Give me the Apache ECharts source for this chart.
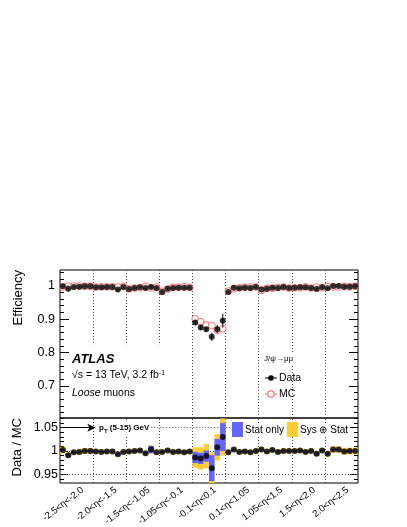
<!DOCTYPE html>
<html><head><meta charset="utf-8">
<script src="https://cdn.jsdelivr.net/npm/echarts@6/dist/echarts.min.js"></script>
<style>html,body{margin:0;padding:0;background:#fff}#c{width:407px;height:527px}</style>
</head><body><div id="c"></div>
<script>
// ---------------- data ----------------
const etaLabels = ['-2.5<η<-2.0','-2.0<η<-1.5','-1.5<η<-1.05','-1.05<η<-0.1','-0.1<η<0.1','0.1<η<1.05','1.05<η<1.5','1.5<η<2.0','2.0<η<2.5'];
const binsPerRegion = 6;

const effData = [
  0.998,0.991,0.996,0.997,0.998,0.998,
  0.995,0.995,0.996,0.996,0.989,0.996,
  0.990,0.993,0.995,0.993,0.996,0.993,
  0.981,0.991,0.993,0.994,0.994,0.994,
  0.890,0.875,0.870,0.847,0.870,0.895,
  0.981,0.994,0.992,0.994,0.993,0.996,
  0.989,0.991,0.994,0.993,0.996,0.993,
  0.994,0.995,0.995,0.993,0.990,0.995,
  0.992,0.999,0.999,0.997,0.997,0.998
];
const effDataErr = [
  0.002,0.002,0.002,0.002,0.002,0.002,
  0.002,0.002,0.002,0.002,0.002,0.002,
  0.002,0.002,0.002,0.002,0.005,0.002,
  0.002,0.002,0.002,0.002,0.002,0.002,
  0.006,0.007,0.007,0.012,0.012,0.021,
  0.002,0.002,0.002,0.002,0.002,0.002,
  0.002,0.002,0.002,0.002,0.002,0.002,
  0.002,0.002,0.002,0.002,0.002,0.002,
  0.002,0.002,0.002,0.002,0.002,0.002
];
const effMC = [
  0.996,0.999,0.999,0.999,0.998,0.998,
  0.996,0.997,0.997,0.997,0.996,0.998,
  0.991,0.993,0.994,0.998,0.993,0.996,
  0.983,0.990,0.995,0.995,0.997,0.995,
  0.901,0.892,0.882,0.881,0.866,0.871,
  0.984,0.991,0.994,0.995,0.996,0.996,
  0.986,0.992,0.992,0.995,0.996,0.993,
  0.994,0.994,0.997,0.993,0.996,0.994,
  0.998,0.996,0.996,0.998,0.997,0.998
];
const ratio = [
  1.002,0.991,0.997,0.998,1.000,1.000,
  0.999,0.998,0.999,0.999,0.993,0.998,
  0.999,1.000,1.001,0.995,1.003,0.997,
  0.998,1.001,0.998,0.999,0.997,0.999,
  0.986,0.984,0.989,0.963,1.008,1.030,
  0.997,1.003,0.998,0.999,0.997,1.000,
  1.003,0.999,1.002,0.998,1.000,1.000,
  1.000,1.001,0.998,1.000,0.994,1.001,
  0.994,1.003,1.003,0.999,1.000,1.000
];
const ratioStat = [
  0.003,0.003,0.002,0.002,0.002,0.002,
  0.002,0.002,0.002,0.002,0.003,0.002,
  0.002,0.002,0.002,0.003,0.008,0.002,
  0.002,0.002,0.002,0.002,0.002,0.002,
  0.012,0.012,0.012,0.028,0.018,0.030,
  0.002,0.002,0.002,0.002,0.002,0.002,
  0.002,0.002,0.002,0.002,0.002,0.002,
  0.002,0.002,0.002,0.002,0.003,0.002,
  0.003,0.002,0.002,0.002,0.002,0.002
];
const ratioSys = [
  0.007,0.005,0.005,0.006,0.006,0.006,
  0.005,0.005,0.005,0.005,0.005,0.005,
  0.005,0.005,0.005,0.005,0.009,0.005,
  0.005,0.005,0.005,0.005,0.005,0.005,
  0.022,0.024,0.026,0.034,0.028,0.040,
  0.005,0.005,0.005,0.005,0.005,0.005,
  0.005,0.005,0.005,0.005,0.005,0.005,
  0.005,0.005,0.005,0.005,0.005,0.005,
  0.006,0.007,0.007,0.007,0.007,0.007
];
const effTicksMajor = [0.7,0.8,0.9,1.0];
const effTicksMinor = [0.62,0.64,0.66,0.68,0.72,0.74,0.76,0.78,0.82,0.84,0.86,0.88,0.92,0.94,0.96,0.98,1.02,1.04];
const ratioTicksMajor = [0.95,1.0,1.05];
const ratioTicksMinor = [0.94,0.96,0.97,0.98,0.99,1.01,1.02,1.03,1.04,1.06,1.07];
const effRange = [0.604, 1.047];
const ratioRange = [0.931, 1.071];
const refLines = [0.95, 1.0];

// ---------------- chart ----------------
const FONT = '"Liberation Sans", Arial, sans-serif';
const nBins = etaLabels.length * binsPerRegion;
const labelShift = 1.1;
const labelPos = etaLabels.map((_, k) => k * binsPerRegion + binsPerRegion / 2 + labelShift);
const boundaries = [];
for (let k = 1; k < etaLabels.length; k++) boundaries.push(k * binsPerRegion);

const YELLOW = '#ffcc33', BLUE = '#6464ff', MCRED = '#ff6464';
const dotted = {type: [1, 2], color: '#444', width: 1};

function yAx(o) {
  return {
    type: 'value', gridIndex: o.grid, position: o.pos, min: o.range[0], max: o.range[1],
    axisLine: {show: false}, splitLine: {show: false},
    axisTick: {show: true, inside: true, length: o.len, customValues: o.ticks, lineStyle: {color: '#000', width: 1}},
    axisLabel: {show: !!o.labels, customValues: o.ticks, formatter: o.fmt, fontSize: o.fs || 12, color: '#000', margin: o.margin || 4, fontFamily: FONT}
  };
}
const fmtEff = v => String(+v.toFixed(1));
const fmtRat = v => String(+v.toFixed(2));

const chart = echarts.init(document.getElementById('c'), null, {renderer: 'canvas'});

const upperVLines = boundaries.map(b => b <= 18
  ? [{coord: [b, effRange[1]]}, {coord: [b, 0.822]}]
  : {xAxis: b});

const lowerLines = boundaries.map(b => ({xAxis: b}))
  .concat(refLines.map(v => ({yAxis: v})))
  .concat([[{coord: [16, 1.05]}, {coord: [31, 1.05]}]]);

const option = {
  animation: false,
  backgroundColor: '#fff',
  grid: [
    {left: 60, top: 270, width: 298, height: 148, show: true, borderColor: '#000', borderWidth: 1, backgroundColor: 'transparent', outerBoundsMode: 'none'},
    {left: 60, top: 418, width: 298, height: 65, show: true, borderColor: '#000', borderWidth: 1, backgroundColor: 'transparent', outerBoundsMode: 'none'}
  ],
  xAxis: [
    {type: 'value', gridIndex: 0, min: 0, max: nBins, axisLine: {show: false}, axisTick: {show: false}, axisLabel: {show: false}, splitLine: {show: false}},
    {type: 'value', gridIndex: 1, min: 0, max: nBins, axisLine: {show: false}, axisTick: {show: false}, splitLine: {show: false},
     axisLabel: {show: true, customValues: labelPos, rotate: 38, margin: 6, fontSize: 9.5, color: '#000', fontFamily: FONT,
       formatter: v => etaLabels[Math.round((v - labelShift - binsPerRegion / 2) / binsPerRegion)] || ''}}
  ],
  yAxis: [
    yAx({grid: 0, range: effRange, pos: 'left', ticks: effTicksMajor, len: 9, labels: true, fmt: fmtEff, fs: 12.5, margin: 5}),
    yAx({grid: 0, range: effRange, pos: 'left', ticks: effTicksMinor, len: 4}),
    yAx({grid: 0, range: effRange, pos: 'right', ticks: effTicksMajor, len: 9}),
    yAx({grid: 0, range: effRange, pos: 'right', ticks: effTicksMinor, len: 4}),
    yAx({grid: 1, range: ratioRange, pos: 'left', ticks: ratioTicksMajor, len: 8, labels: true, fmt: fmtRat, fs: 12.5, margin: 2}),
    yAx({grid: 1, range: ratioRange, pos: 'left', ticks: ratioTicksMinor, len: 4}),
    yAx({grid: 1, range: ratioRange, pos: 'right', ticks: ratioTicksMajor, len: 8}),
    yAx({grid: 1, range: ratioRange, pos: 'right', ticks: ratioTicksMinor, len: 4})
  ],
  series: [
    {type: 'scatter', xAxisIndex: 0, yAxisIndex: 0, silent: true, z: 3,
     data: effMC.map((v, i) => [i + 0.5, v]), symbol: 'circle', symbolSize: 6.5,
     itemStyle: {color: '#fff', borderColor: MCRED, borderWidth: 1.1},
     markLine: {silent: true, symbol: ['none', 'none'], label: {show: false}, lineStyle: dotted, z: 1, data: upperVLines}},
    {type: 'custom', xAxisIndex: 0, yAxisIndex: 0, silent: true, clip: true, z: 4,
     data: effData.map((v, i) => [i + 0.5, v, effDataErr[i]]),
     renderItem: (params, api) => {
       const x = api.value(0), y = api.value(1), e = api.value(2);
       const a = api.coord([x, y + e]), b = api.coord([x, y - e]);
       return {type: 'line', shape: {x1: a[0], y1: a[1], x2: b[0], y2: b[1]}, style: {stroke: '#000', lineWidth: 1}};
     }},
    {type: 'scatter', xAxisIndex: 0, yAxisIndex: 0, silent: true, z: 5,
     data: effData.map((v, i) => [i + 0.5, v]), symbol: 'circle', symbolSize: 6, itemStyle: {color: '#000'}},
    {type: 'custom', xAxisIndex: 1, yAxisIndex: 4, silent: true, clip: true, z: 2,
     data: ratio.map((v, i) => [i, v, ratioSys[i]]),
     renderItem: (params, api) => {
       const i = api.value(0), v = api.value(1), e = api.value(2);
       const a = api.coord([i, v + e]), b = api.coord([i + 1, v - e]);
       return {type: 'rect', shape: {x: a[0], y: a[1], width: b[0] - a[0], height: b[1] - a[1]}, style: {fill: YELLOW}};
     }},
    {type: 'custom', xAxisIndex: 1, yAxisIndex: 4, silent: true, clip: true, z: 3,
     data: ratio.map((v, i) => [i, v, ratioStat[i]]),
     renderItem: (params, api) => {
       const i = api.value(0), v = api.value(1), e = api.value(2);
       const a = api.coord([i, v + e]), b = api.coord([i + 1, v - e]);
       return {type: 'rect', shape: {x: a[0], y: a[1], width: b[0] - a[0], height: b[1] - a[1]}, style: {fill: BLUE}};
     }},
    {type: 'scatter', xAxisIndex: 1, yAxisIndex: 4, silent: true, z: 5,
     data: ratio.map((v, i) => [i + 0.5, v]), symbol: 'circle', symbolSize: 6, itemStyle: {color: '#000'},
     markLine: {silent: true, symbol: ['none', 'none'], label: {show: false}, lineStyle: dotted, z: 1,
       data: lowerLines.concat([[{coord: [0.3, 1.05], symbol: 'none', lineStyle: {type: 'solid', color: '#000', width: 1}},
                                 {coord: [6.4, 1.05], symbol: 'arrow', symbolSize: [6, 8], lineStyle: {type: 'solid', color: '#000', width: 1}}]])}}
  ],
  graphic: [
    {type: 'text', x: 18, y: 270, rotation: Math.PI / 2,
     style: {text: 'Efficiency', font: '13px ' + FONT, fill: '#000', align: 'right', verticalAlign: 'middle'}},
    {type: 'text', x: 17, y: 418, rotation: Math.PI / 2,
     style: {text: 'Data / MC', font: '13px ' + FONT, fill: '#000', align: 'right', verticalAlign: 'middle'}},
    {type: 'text', x: 72, y: 359, z: 10,
     style: {text: 'ATLAS', font: 'italic bold 13px ' + FONT, fill: '#000', verticalAlign: 'middle'}},
    {type: 'text', x: 72, y: 375, z: 10,
     style: {text: '√s = 13 TeV, 3.2 fb{sup|-1}', font: '10.5px ' + FONT, fill: '#000', verticalAlign: 'middle',
       rich: {sup: {fontSize: 7, fontFamily: FONT, verticalAlign: 'top', fill: '#000'}}}},
    {type: 'text', x: 72, y: 393, z: 10,
     style: {text: '{i|Loose} muons', font: '10.5px ' + FONT, fill: '#000', verticalAlign: 'middle',
       rich: {i: {fontStyle: 'italic', fontSize: 10.5, fontFamily: FONT, fill: '#000'}}}},
    {type: 'text', x: 263, y: 359, z: 10,
     style: {text: 'J/ψ→μμ', font: '8px ' + FONT, fill: '#000', verticalAlign: 'middle', backgroundColor: '#fff', padding: [1, 1]}},
    {type: 'line', z: 10, shape: {x1: 265, y1: 378, x2: 277, y2: 378}, style: {stroke: '#000', lineWidth: 1}},
    {type: 'circle', z: 11, shape: {cx: 271, cy: 378, r: 2.8}, style: {fill: '#000'}},
    {type: 'text', x: 279, y: 378, z: 10, style: {text: 'Data', font: '10.5px ' + FONT, fill: '#000', verticalAlign: 'middle'}},
    {type: 'line', z: 10, shape: {x1: 265, y1: 394, x2: 277, y2: 394}, style: {stroke: MCRED, lineWidth: 1}},
    {type: 'circle', z: 11, shape: {cx: 271, cy: 394, r: 3.2}, style: {fill: '#fff', stroke: MCRED, lineWidth: 1.1}},
    {type: 'text', x: 279, y: 394, z: 10, style: {text: 'MC', font: '10.5px ' + FONT, fill: '#000', verticalAlign: 'middle'}},
    {type: 'text', x: 98, y: 428, z: 10,
     style: {text: '{p|p}{t|T} (5-15) GeV', font: 'bold 8px ' + FONT, fill: '#000', verticalAlign: 'middle', backgroundColor: '#fff', padding: [1, 1],
       rich: {p: {fontSize: 8, fontWeight: 'bold', fontFamily: FONT, fill: '#000'}, t: {fontSize: 6, fontWeight: 'bold', fontFamily: FONT, fill: '#000', verticalAlign: 'bottom', padding: [6, 0, 0, 0]}}}},
    {type: 'rect', z: 10, shape: {x: 232, y: 422, width: 11, height: 15}, style: {fill: BLUE}},
    {type: 'text', x: 245, y: 430, z: 10, style: {text: 'Stat only', font: '10px ' + FONT, fill: '#000', verticalAlign: 'middle', backgroundColor: '#fff'}},
    {type: 'rect', z: 10, shape: {x: 287, y: 422, width: 11, height: 15}, style: {fill: YELLOW}},
    {type: 'text', x: 300, y: 430, z: 10, style: {text: 'Sys ⊕ Stat', font: '10px ' + FONT, fill: '#000', verticalAlign: 'middle', backgroundColor: '#fff'}}
  ]
};
chart.setOption(option);
</script>
</body></html>
